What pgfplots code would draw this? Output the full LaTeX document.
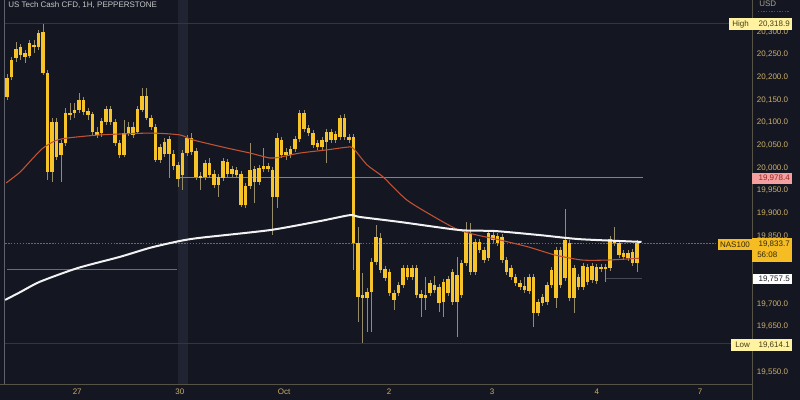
\documentclass[border=0pt]{standalone}
\usepackage{pgfplots}
\pgfplotsset{compat=1.18}
\usepackage{pgfplotstable}
\usepackage{fontspec}
\setmainfont{Liberation Sans}
\definecolor{bg}{RGB}{20,23,34}
\definecolor{band}{RGB}{32,36,50}
\definecolor{candle}{RGB}{246,196,40}
\definecolor{wick}{RGB}{150,140,105}
\definecolor{tickc}{RGB}{205,175,105}
\definecolor{ma50}{RGB}{195,82,50}
\definecolor{ma200}{RGB}{242,242,242}
\definecolor{hlc}{RGB}{50,53,66}
\definecolor{pinkl}{RGB}{150,120,132}
\definecolor{curl}{RGB}{120,104,70}
\definecolor{axl}{RGB}{85,82,70}
\definecolor{hibox}{RGB}{255,242,160}
\definecolor{redbox}{RGB}{244,160,160}
\definecolor{nasbox}{RGB}{245,188,35}

\pgfplotstableread{
x top bot high low
0 20199 20157 20207 20150
1 20238 20201 20245 20194
2 20263 20243 20278 20234
3 20267 20249 20274 20238
4 20254 20245 20260 20232
5 20276 20247 20282 20243
6 20271 20267 20282 20254
7 20298 20267 20304 20260
8 20300 20210 20318.9 20205
9 20210 19991 20216 19974
10 20101 19991 20110 19969
11 20101 20024 20110 20018
12 20055 20029 20062 19969
13 20121 20055 20132 20049
14 20121 20117 20143 20106
15 20128 20121 20143 20110
16 20150 20128 20165 20121
17 20150 20123 20157 20117
18 20126 20117 20132 20106
19 20119 20079 20123 20073
20 20079 20073 20090 20066
21 20104 20077 20110 20068
22 20130 20101 20137 20095
23 20130 20101 20137 20095
24 20101 20055 20108 20049
25 20055 20029 20062 20022
26 20077 20029 20106 20024
27 20090 20077 20101 20071
28 20090 20073 20101 20066
29 20130 20079 20137 20075
30 20159 20128 20176 20123
31 20159 20110 20176 20106
32 20110 20090 20117 20084
33 20090 20018 20097 20013
34 20046 20018 20053 20011
35 20057 20031 20066 20024
36 20064 20031 20071 19978
37 20031 20004 20040 19996
38 20007 19976 20013 19958
39 20033 19985 20040 19952
40 20066 20033 20073 20027
41 20066 20035 20077 20029
42 20038 19980 20044 19974
43 19982 19978 19991 19952
44 20011 19980 20018 19974
45 20011 19985 20022 19978
46 19987 19963 19996 19956
47 19980 19963 19987 19936
48 20015 19978 20022 19971
49 20013 19987 20020 19980
50 19998 19987 20004 19980
51 19996 19985 20002 19978
52 19987 19918 19993 19914
53 19960 19918 19967 19912
54 19996 19960 20055 19954
55 19998 19969 20004 19923
56 20000 19969 20007 19963
57 20004 19998 20044 19991
58 20004 19998 20011 19991
59 19996 19936 20002 19852
60 20066 19936 20077 19912
61 20062 20029 20068 20022
62 20035 20029 20044 20018
63 20042 20029 20049 20022
64 20064 20042 20071 20035
65 20121 20064 20128 20057
66 20121 20086 20128 20079
67 20088 20077 20095 20071
68 20077 20051 20084 20044
69 20055 20046 20062 20040
70 20062 20046 20068 20040
71 20079 20057 20086 20011
72 20079 20062 20086 20055
73 20075 20062 20082 20055
74 20110 20068 20117 20062
75 20110 20068 20119 20062
76 20068 20062 20075 20055
77 20068 19835 20075 19775
78 19835 19715 19870 19660
79 19720 19713 19768 19614.1
80 19726 19713 19735 19638
81 19793 19726 19801 19638
82 19848 19793 19874 19786
83 19846 19775 19857 19768
84 19777 19757 19784 19751
85 19771 19724 19777 19718
86 19724 19709 19731 19687
87 19742 19724 19749 19718
88 19779 19742 19786 19735
89 19779 19760 19786 19753
90 19779 19760 19786 19753
91 19779 19720 19786 19713
92 19722 19713 19731 19671
93 19720 19713 19760 19687
94 19746 19724 19753 19718
95 19742 19731 19762 19724
96 19738 19702 19744 19682
97 19749 19704 19755 19671
98 19755 19724 19762 19718
99 19771 19704 19777 19698
100 19764 19704 19804 19627
101 19790 19720 19797 19713
102 19859 19790 19881 19784
103 19857 19771 19879 19764
104 19837 19771 19843 19764
105 19837 19819 19843 19812
106 19819 19797 19826 19790
107 19857 19801 19863 19795
108 19852 19841 19859 19835
109 19850 19835 19857 19828
110 19848 19797 19854 19790
111 19797 19771 19804 19764
112 19779 19760 19786 19753
113 19760 19746 19766 19740
114 19746 19738 19753 19731
115 19740 19731 19760 19724
116 19760 19729 19766 19722
117 19760 19680 19766 19649
118 19704 19680 19711 19674
119 19715 19702 19722 19696
120 19742 19704 19749 19698
121 19775 19742 19782 19735
122 19819 19713 19826 19691
123 19819 19742 19826 19735
124 19841 19757 19910 19751
125 19835 19713 19841 19707
126 19779 19713 19786 19680
127 19760 19738 19766 19731
128 19784 19738 19790 19731
129 19782 19749 19788 19742
130 19784 19753 19790 19746
131 19782 19751 19788 19744
132 19782 19777 19788 19771
133 19782 19777 19788 19749
134 19843 19779 19850 19773
135 19841 19835 19870 19828
136 19835 19808 19841 19801
137 19812 19804 19819 19797
138 19812 19801 19819 19795
139 19815 19790 19821 19784
140 19833.7 19790 19841 19771
}\candles

\pgfplotstableread{
x y
-0.2 19967
2.9 19991
5.8 20022
8.0 20044
10.7 20060
13.3 20066
20.7 20073
31.8 20077
38.4 20073
41.3 20062
48.9 20044
54.0 20033
58.4 20022
60.7 20024
65.1 20033
71.1 20040
75.6 20046
76.9 20044
80.0 20007
83.6 19980
88.9 19929
96.2 19885
100.0 19865
103.6 19854
109.6 19841
115.8 19826
121.8 19808
127.8 19797
133.6 19797
140.5 19801
}\emafifty

\pgfplotstableread{
x y
-0.4 19709
2.9 19726
7.3 19749
15.6 19779
25.1 19804
31.8 19824
38.4 19839
42.9 19846
58.4 19863
69.6 19883
76.2 19896
78.4 19892
87.3 19881
100.7 19863
108.4 19861
118.4 19852
127.3 19843
141.0 19837
}\smatwohundred

\begin{document}
\begin{tikzpicture}[x=0.75pt,y=0.75pt]
\useasboundingbox (0,0) rectangle (800,400);
\fill[bg] (0,0) rectangle (800,400);
\fill[band] (178,16) rectangle (188,400);
\draw[line width=0.6pt, color={rgb,255:red,95;green,97;blue,108}] (4.5,16) -- (4.5,400);
\begin{axis}[
  at={(0pt,11.25pt)}, anchor=south west,
  width=564pt, height=288.75pt, scale only axis,
  xmin=-1.556, xmax=165.556, ymin=19521.3, ymax=20370.6,
  axis line style={draw=none}, tick style={draw=none},
  scaled y ticks=false,
  ytick={19550,19650,19700,19850,19900,19950,20000,20050,20100,20150,20200,20250,20300},
  yticklabel pos=right,
  yticklabel style={font=\fontsize{6}{7}\selectfont, text=tickc, anchor=west, inner sep=1pt, xshift=2.5pt,
    /pgf/number format/.cd, fixed, fixed zerofill, precision=1, 1000 sep={,}, assume math mode=true},
  xtick={15.6,38.4,61.6,84.9,107.8,131.1,154},
  xticklabels={27,30,Oct,2,3,4,7},
  xticklabel style={font=\fontsize{6}{7}\selectfont, text=tickc, anchor=north, inner sep=1pt, yshift=-2pt},
]
% reference lines
\draw[hlc, line width=0.6pt] (axis cs:-0.44,20318.9) -- (axis cs:160.4,20318.9);
\draw[hlc, line width=0.6pt] (axis cs:-0.44,19614.1) -- (axis cs:160.9,19614.1);
\draw[pinkl, line width=0.7pt] (axis cs:38.4,19978.4) -- (axis cs:141.3,19978.4);
\draw[pinkl!80!bg, line width=0.7pt] (axis cs:0,19777) -- (axis cs:37.8,19777);
\draw[hlc!90!white, line width=0.6pt] (axis cs:132.9,19757.5) -- (axis cs:141.1,19757.5);
\draw[curl, line width=0.6pt, dash pattern=on 1.2pt off 1pt] (axis cs:-0.44,19833.7) -- (axis cs:165.6,19833.7);
% wicks
\addplot[draw=none, forget plot, error bars/.cd, y dir=both, y explicit, error mark=none,
  error bar style={draw=wick, line width=0.6pt}]
  table[x=x, y expr={(\thisrow{high}+\thisrow{low})/2}, y error expr={(\thisrow{high}-\thisrow{low})/2}] {\candles};
% bodies
\addplot[draw=none, forget plot, error bars/.cd, y dir=both, y explicit, error mark=none,
  error bar style={draw=candle, line width=2.6pt}]
  table[x=x, y expr={(\thisrow{top}+\thisrow{bot})/2}, y error expr={max((\thisrow{top}-\thisrow{bot})/2,1.4)}] {\candles};
% moving averages
\addplot[ma50, line width=0.8pt, smooth, tension=0.4] table[x=x,y=y] {\emafifty};
\addplot[ma200, line width=1.5pt, smooth, tension=0.4] table[x=x,y=y] {\smatwohundred};
\end{axis}
% axis borders
\draw[axl, line width=0.6pt] (0,16) -- (752,16);
\draw[axl, line width=0.6pt] (752,0) -- (752,400);
% header texts
\node[anchor=base west, inner sep=0, font=\fontsize{6}{7}\selectfont, text={rgb,255:red,200;green,200;blue,200}] at (8,392) {US Tech Cash CFD, 1H, PEPPERSTONE};
\node[anchor=base west, inner sep=0, font=\fontsize{6}{7}\selectfont, text={rgb,255:red,170;green,165;blue,150}] at (759,393) {USD};
\draw[axl, line width=0.5pt, dash pattern=on 1pt off 1pt] (758,389) -- (790,389);
% price labels
\fill[hibox] (729,370) rectangle (792,382);
\node[anchor=west, inner sep=0, font=\fontsize{6}{7}\selectfont, text={rgb,255:red,70;green,60;blue,20}] at (732,376) {High};
\node[anchor=east, inner sep=0, font=\fontsize{6}{7}\selectfont, text={rgb,255:red,70;green,60;blue,20}] at (790,376) {20,318.9};
\fill[redbox] (752,216) rectangle (792,227);
\node[anchor=east, inner sep=0, font=\fontsize{6}{7}\selectfont, text={rgb,255:red,150;green,35;blue,35}] at (790,221.5) {19,978.4};
\fill[nasbox] (718,150) rectangle (752,161);
\fill[nasbox] (752,138) rectangle (792,162);
\node[inner sep=0, font=\fontsize{6}{7}\selectfont, text={rgb,255:red,50;green,40;blue,10}] at (735,155.5) {NAS100};
\node[anchor=east, inner sep=0, font=\fontsize{6}{7}\selectfont, text={rgb,255:red,50;green,40;blue,10}] at (790,155.5) {19,833.7};
\node[anchor=west, inner sep=0, font=\fontsize{6}{7}\selectfont, text={rgb,255:red,50;green,40;blue,10}] at (757,145) {56:08};
\fill[white] (753,116) rectangle (792,126);
\node[anchor=east, inner sep=0, font=\fontsize{6}{7}\selectfont, text={rgb,255:red,30;green,30;blue,40}] at (790,121) {19,757.5};
\fill[hibox] (731,49) rectangle (792,61);
\node[anchor=west, inner sep=0, font=\fontsize{6}{7}\selectfont, text={rgb,255:red,70;green,60;blue,20}] at (735,55) {Low};
\node[anchor=east, inner sep=0, font=\fontsize{6}{7}\selectfont, text={rgb,255:red,70;green,60;blue,20}] at (790,55) {19,614.1};
\end{tikzpicture}
\end{document}
